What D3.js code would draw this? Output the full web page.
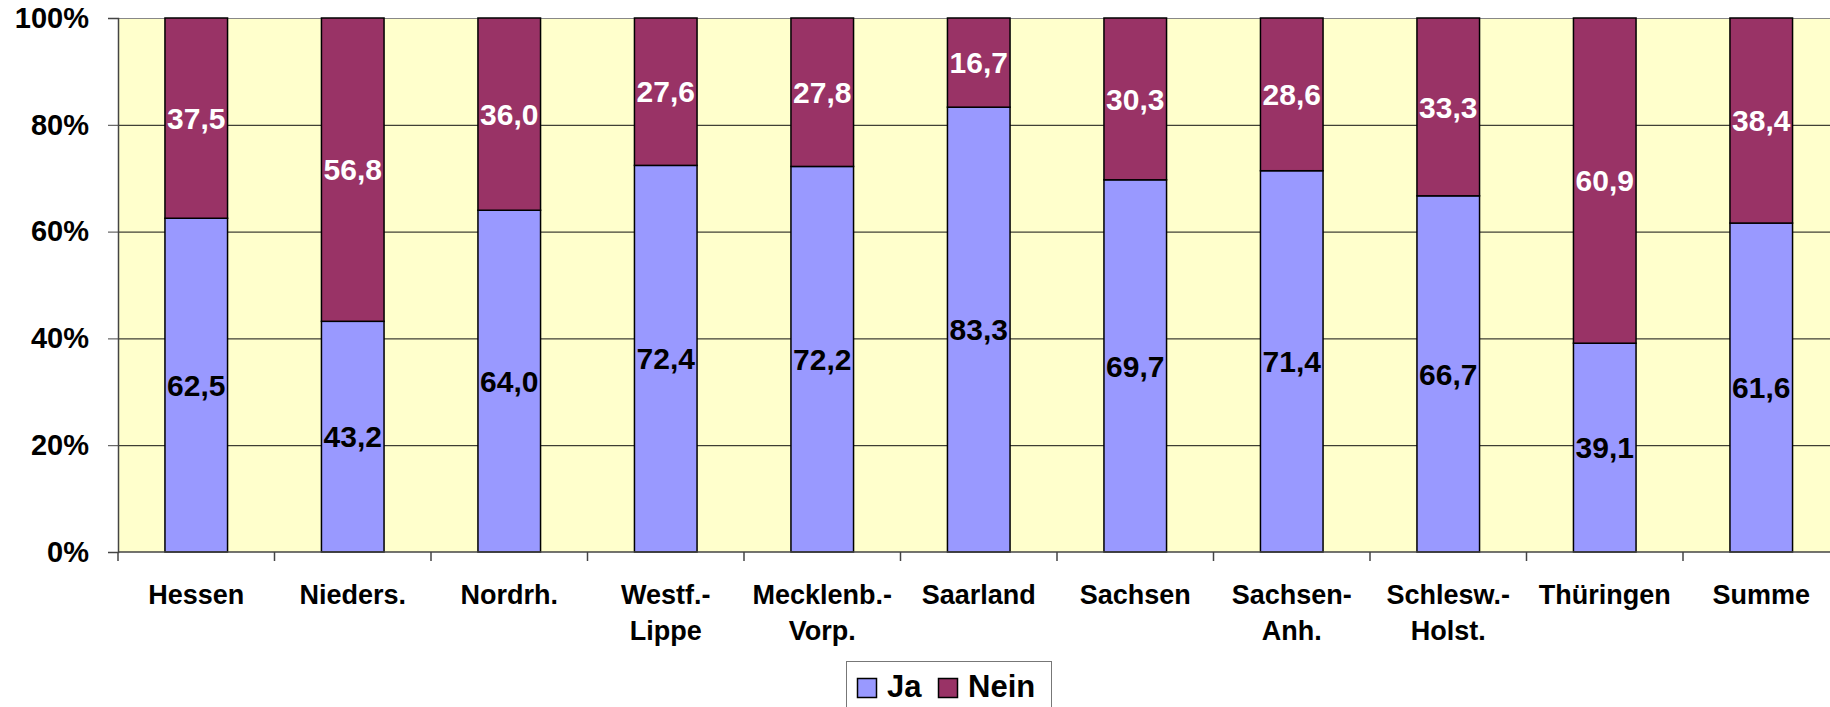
<!DOCTYPE html>
<html>
<head>
<meta charset="utf-8">
<script src="https://cdn.jsdelivr.net/npm/d3@7"></script>
<style>
    body { margin: 0; background: #fff; overflow: hidden; }
    svg { display: block; font-family: "Liberation Sans", Arial, sans-serif; font-weight: bold; }
</style>
</head>
<body>
<div id="chart"></div>
<script>
// Daten
const categories = ['Hessen', 'Nieders.', 'Nordrh.', 'Westf.-|Lippe', 'Mecklenb.-|Vorp.', 'Saarland',
                    'Sachsen', 'Sachsen-|Anh.', 'Schlesw.-|Holst.', 'Thüringen', 'Summe'];
const ja   = [62.5, 43.2, 64.0, 72.4, 72.2, 83.3, 69.7, 71.4, 66.7, 39.1, 61.6];
const nein = [37.5, 56.8, 36.0, 27.6, 27.8, 16.7, 30.3, 28.6, 33.3, 60.9, 38.4];
const yTicks = [0, 20, 40, 60, 80, 100];
const seriesNames = ['Ja', 'Nein'];
const colors = ['#9999ff', '#993366'];

const W = 1830, H = 707;
const margin = { top: 18, left: 118, bottom: 155 };
const bandW = 156.5;

const svg = d3.select('#chart').append('svg')
    .attr('width', W)
    .attr('height', H);

const x = d3.scaleBand()
    .domain(categories)
    .range([margin.left, margin.left + bandW * categories.length])
    .padding(0);

const y = d3.scaleLinear()
    .domain([0, 100])
    .range([H - margin.bottom, margin.top]);

const x0 = x.range()[0], x1 = x.range()[1];

// Hintergrund
svg.append('rect')
    .attr('x', x0).attr('y', y(100))
    .attr('width', x1 - x0).attr('height', y(0) - y(100))
    .attr('fill', '#ffffcc');

// Gitterlinien
svg.append('g')
    .selectAll('line')
    .data(yTicks.filter(d => d > 0))
    .enter().append('line')
    .attr('x1', x0).attr('x2', x1)
    .attr('y1', d => y(d) + 0.5).attr('y2', d => y(d) + 0.5)
    .attr('stroke', d => d === 100 ? '#888' : '#111')
    .attr('stroke-width', 1);

// gestapelte Daten
const rows = categories.map((c, i) => ({ cat: c, Ja: ja[i], Nein: nein[i] }));
const stack = d3.stack().keys(seriesNames)(rows);

const bw = x.bandwidth() * 0.4;
const fmt = v => d3.format('.1f')(v).replace('.', ',');

stack.forEach((layer, k) => {
    svg.append('g')
        .selectAll('rect')
        .data(layer)
        .enter().append('rect')
        .attr('x', d => x(d.data.cat) + x.bandwidth() / 2 - bw / 2)
        .attr('y', d => y(d[1]))
        .attr('width', bw)
        .attr('height', d => y(d[0]) - y(d[1]))
        .attr('fill', colors[k])
        .attr('stroke', '#000')
        .attr('stroke-width', 1.5);
});

// Beschriftungen
stack.forEach((layer, k) => {
    svg.append('g')
        .selectAll('text')
        .data(layer)
        .enter().append('text')
        .attr('x', d => x(d.data.cat) + x.bandwidth() / 2)
        .attr('y', d => y((d[0] + d[1]) / 2))
        .attr('dy', '0.36em')
        .attr('text-anchor', 'middle')
        .attr('font-size', 30)
        .attr('fill', k === 0 ? '#000' : '#fff')
        .text(d => fmt(d[1] - d[0]));
});

// Y-Achse
const yAxis = svg.append('g')
    .attr('transform', `translate(${x0},0)`)
    .call(d3.axisLeft(y).tickValues(yTicks).tickFormat(d => d + '%').tickSize(10).tickPadding(19));
yAxis.select('.domain').attr('stroke', '#444').attr('stroke-width', 1.5);
yAxis.selectAll('.tick line').attr('stroke', '#444');
yAxis.selectAll('text')
    .attr('font-size', 29)
    .attr('font-family', '"Liberation Sans", Arial, sans-serif')
    .attr('font-weight', 'bold')
    .attr('fill', '#000');

// X-Achse
const xg = svg.append('g');
xg.append('line')
    .attr('x1', x0).attr('x2', x1)
    .attr('y1', y(0)).attr('y2', y(0))
    .attr('stroke', '#444').attr('stroke-width', 1.5);
xg.selectAll('.xtick')
    .data(d3.range(categories.length + 1))
    .enter().append('line')
    .attr('x1', i => x0 + i * x.bandwidth())
    .attr('x2', i => x0 + i * x.bandwidth())
    .attr('y1', y(0)).attr('y2', y(0) + 9)
    .attr('stroke', '#444').attr('stroke-width', 1.5);

const labels = xg.selectAll('.xlabel')
    .data(categories)
    .enter().append('text')
    .attr('text-anchor', 'middle')
    .attr('font-size', 27)
    .attr('fill', '#000');
labels.each(function (c) {
    const parts = c.split('|');
    const t = d3.select(this);
    parts.forEach((p, j) => {
        t.append('tspan')
            .attr('x', x(c) + x.bandwidth() / 2)
            .attr('y', 604 + j * 36)
            .text(p);
    });
});

// Legende
const leg = svg.append('g');
leg.append('rect')
    .attr('x', 846.5).attr('y', 661.5)
    .attr('width', 205).attr('height', 60)
    .attr('fill', '#fff')
    .attr('stroke', '#777').attr('stroke-width', 1);
const legX = [857, 938];
seriesNames.forEach((s, k) => {
    leg.append('rect')
        .attr('x', legX[k] + 0.5).attr('y', 678.5)
        .attr('width', 19).attr('height', 19)
        .attr('fill', colors[k])
        .attr('stroke', '#000').attr('stroke-width', 1.5);
    leg.append('text')
        .attr('x', legX[k] + 30)
        .attr('y', 697)
        .attr('font-size', 31)
        .attr('fill', '#000')
        .text(s);
});
</script>
</body>
</html>
